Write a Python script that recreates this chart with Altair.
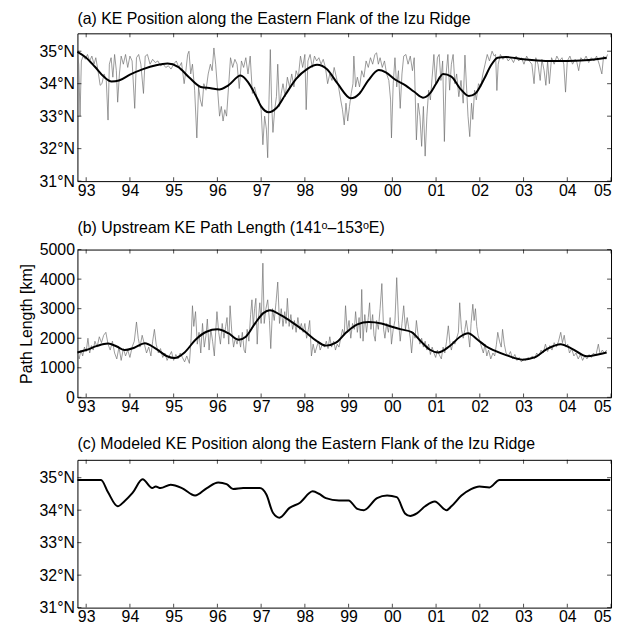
import altair as alt
import pandas as pd

# ---------------- data ----------------
year_ticks = list(range(1993, 2006))
lat_ticks = [31, 32, 33, 34, 35]
km_ticks = [0, 1000, 2000, 3000, 4000, 5000]

# (a) observed KE position, gray noisy series
a_obs_t = [1992.80,1992.83,1992.86,1992.89,1992.93,1992.98,1993.03,1993.08,1993.13,1993.18,1993.22,1993.27,1993.32,1993.36,1993.41,1993.46,1993.50,1993.53,1993.57,1993.61,1993.65,1993.69,1993.72,1993.76,1993.80,1993.85,1993.90,1993.95,1994.00,1994.05,1994.11,1994.15,1994.20,1994.25,1994.31,1994.35,1994.40,1994.46,1994.52,1994.58,1994.64,1994.70,1994.76,1994.82,1994.88,1994.94,1995.00,1995.06,1995.12,1995.18,1995.24,1995.28,1995.32,1995.35,1995.39,1995.43,1995.48,1995.53,1995.57,1995.61,1995.65,1995.69,1995.74,1995.79,1995.84,1995.88,1995.92,1995.96,1996.00,1996.05,1996.09,1996.13,1996.17,1996.21,1996.26,1996.30,1996.35,1996.40,1996.45,1996.50,1996.55,1996.60,1996.65,1996.70,1996.75,1996.80,1996.85,1996.90,1996.95,1997.00,1997.04,1997.08,1997.12,1997.15,1997.18,1997.21,1997.24,1997.27,1997.31,1997.35,1997.38,1997.42,1997.46,1997.50,1997.55,1997.60,1997.65,1997.70,1997.75,1997.80,1997.85,1997.90,1997.95,1998.00,1998.03,1998.07,1998.12,1998.17,1998.22,1998.27,1998.32,1998.37,1998.42,1998.47,1998.52,1998.57,1998.62,1998.67,1998.72,1998.77,1998.82,1998.86,1998.90,1998.94,1998.98,1999.02,1999.06,1999.10,1999.12,1999.16,1999.20,1999.25,1999.30,1999.35,1999.40,1999.45,1999.50,1999.55,1999.60,1999.64,1999.68,1999.72,1999.77,1999.82,1999.87,1999.92,1999.96,1999.98,2000.02,2000.06,2000.10,2000.14,2000.18,2000.22,2000.26,2000.31,2000.36,2000.41,2000.46,2000.50,2000.55,2000.59,2000.63,2000.67,2000.71,2000.75,2000.79,2000.83,2000.87,2000.91,2000.95,2000.99,2001.03,2001.07,2001.11,2001.15,2001.19,2001.23,2001.27,2001.31,2001.35,2001.39,2001.43,2001.47,2001.52,2001.57,2001.62,2001.66,2001.70,2001.73,2001.77,2001.81,2001.84,2001.88,2001.92,2001.97,2002.02,2002.07,2002.12,2002.17,2002.22,2002.28,2002.33,2002.36,2002.39,2002.42,2002.47,2002.53,2002.59,2002.65,2002.71,2002.77,2002.83,2002.89,2002.95,2003.01,2003.07,2003.13,2003.19,2003.24,2003.28,2003.33,2003.38,2003.42,2003.47,2003.51,2003.55,2003.59,2003.64,2003.70,2003.76,2003.82,2003.88,2003.92,2003.96,2004.00,2004.06,2004.12,2004.18,2004.22,2004.26,2004.31,2004.37,2004.43,2004.49,2004.55,2004.61,2004.67,2004.73,2004.79,2004.83,2004.88,2004.92]
a_obs_v = [34.95,34.6,33.0,34.7,34.85,34.75,34.9,34.7,34.85,34.6,34.8,34.4,33.95,34.0,34.3,34.1,32.88,34.6,34.8,34.2,34.9,34.4,33.43,34.3,34.85,34.6,34.9,34.5,34.85,34.7,33.24,34.8,34.9,34.6,33.7,34.85,34.9,34.6,34.75,34.65,34.7,34.55,34.6,34.5,34.55,34.45,34.6,34.7,34.5,34.65,34.0,34.4,34.9,35.0,34.3,34.6,33.8,32.33,33.9,33.5,33.3,34.0,33.8,34.3,34.6,34.4,35.1,34.6,33.9,33.0,33.3,32.85,33.2,33.0,34.0,34.8,34.5,34.75,34.6,33.85,34.7,34.5,34.8,34.3,34.85,33.7,33.9,33.6,33.5,33.2,32.12,33.0,32.6,31.72,33.5,35.05,33.4,32.5,33.2,33.6,34.6,33.3,33.7,34.0,33.6,34.2,33.9,34.3,33.9,34.4,34.2,34.85,34.5,34.9,33.2,34.7,34.9,34.5,34.85,34.7,34.8,34.6,34.75,34.5,34.0,34.3,34.1,34.5,34.2,33.9,33.5,33.2,32.73,33.4,32.85,33.3,33.7,34.0,34.85,33.9,34.2,33.9,34.4,34.2,34.7,34.5,34.8,34.6,34.9,34.95,34.6,34.8,34.5,34.7,34.3,34.1,33.5,32.33,34.0,34.8,33.9,34.4,33.24,34.3,34.85,34.9,34.6,34.85,34.4,34.8,32.27,33.4,33.0,32.07,33.3,31.77,33.0,33.8,33.5,34.2,34.9,34.0,34.8,34.9,34.1,34.7,32.22,34.3,34.9,33.8,34.6,34.9,34.0,34.3,33.6,34.1,33.4,34.88,33.8,33.0,32.37,33.4,32.9,33.8,33.5,34.0,33.9,34.3,34.6,34.9,34.7,35.0,34.85,34.9,33.79,34.6,34.9,34.75,34.85,34.7,34.8,34.65,34.85,34.7,34.8,34.6,34.85,34.7,34.6,34.0,34.8,34.6,34.1,34.75,34.4,33.95,34.7,34.0,34.8,34.6,34.85,34.7,34.8,34.6,33.74,34.7,34.85,34.6,34.75,34.65,34.4,34.8,34.7,34.85,34.65,34.8,34.7,34.85,34.6,34.3,34.85,34.75,34.9]

# (a) smoothed KE position, thick black
a_fit_t = [1992.8,1993.0,1993.2,1993.4,1993.58,1993.75,1994.0,1994.3,1994.6,1994.86,1995.1,1995.35,1995.62,1995.85,1996.04,1996.25,1996.53,1996.7,1996.87,1997.0,1997.17,1997.35,1997.55,1997.8,1998.05,1998.28,1998.5,1998.75,1999.05,1999.25,1999.45,1999.69,1999.85,2000.07,2000.3,2000.5,2000.7,2000.86,2001.0,2001.16,2001.35,2001.55,2001.75,2001.9,2002.1,2002.25,2002.41,2002.6,2003.0,2003.5,2004.0,2004.4,2004.9]
a_fit_v = [34.98,34.8,34.52,34.22,34.07,34.1,34.28,34.45,34.57,34.62,34.52,34.2,33.9,33.86,33.82,33.95,34.25,34.05,33.65,33.3,33.12,33.25,33.65,34.15,34.45,34.58,34.45,34.0,33.55,33.7,34.1,34.42,34.35,34.12,33.95,33.75,33.57,33.7,34.0,34.3,34.22,33.85,33.62,33.7,34.15,34.55,34.8,34.82,34.75,34.7,34.7,34.72,34.8]

# (b) upstream path length, gray noisy series
b_obs_t = [1992.80,1992.84,1992.88,1992.92,1992.96,1993.00,1993.04,1993.08,1993.12,1993.16,1993.20,1993.25,1993.30,1993.35,1993.40,1993.45,1993.50,1993.55,1993.60,1993.65,1993.70,1993.75,1993.80,1993.85,1993.90,1993.95,1994.00,1994.05,1994.10,1994.15,1994.19,1994.23,1994.28,1994.33,1994.38,1994.43,1994.48,1994.52,1994.56,1994.60,1994.65,1994.70,1994.75,1994.80,1994.85,1994.90,1994.95,1995.00,1995.05,1995.10,1995.15,1995.20,1995.25,1995.30,1995.36,1995.40,1995.43,1995.46,1995.50,1995.54,1995.58,1995.62,1995.66,1995.70,1995.74,1995.77,1995.81,1995.85,1995.89,1995.93,1995.96,1995.99,1996.03,1996.07,1996.11,1996.15,1996.19,1996.22,1996.26,1996.29,1996.33,1996.37,1996.41,1996.45,1996.49,1996.53,1996.57,1996.61,1996.64,1996.68,1996.72,1996.76,1996.79,1996.82,1996.85,1996.88,1996.91,1996.94,1996.97,1997.00,1997.04,1997.07,1997.11,1997.15,1997.19,1997.22,1997.26,1997.30,1997.34,1997.38,1997.42,1997.46,1997.50,1997.54,1997.57,1997.60,1997.64,1997.68,1997.72,1997.76,1997.80,1997.84,1997.88,1997.92,1997.96,1998.00,1998.04,1998.08,1998.11,1998.15,1998.19,1998.23,1998.27,1998.31,1998.35,1998.40,1998.45,1998.49,1998.53,1998.57,1998.61,1998.66,1998.70,1998.74,1998.78,1998.82,1998.86,1998.90,1998.93,1998.97,1999.01,1999.05,1999.09,1999.13,1999.16,1999.20,1999.24,1999.27,1999.30,1999.33,1999.37,1999.41,1999.45,1999.48,1999.51,1999.55,1999.58,1999.61,1999.64,1999.68,1999.72,1999.76,1999.80,1999.83,1999.87,1999.91,1999.95,1999.98,2000.02,2000.06,2000.10,2000.14,2000.18,2000.22,2000.26,2000.30,2000.34,2000.37,2000.41,2000.44,2000.48,2000.52,2000.55,2000.59,2000.63,2000.67,2000.71,2000.75,2000.79,2000.83,2000.87,2000.91,2000.95,2000.99,2001.03,2001.07,2001.12,2001.16,2001.20,2001.24,2001.28,2001.32,2001.35,2001.39,2001.43,2001.47,2001.51,2001.54,2001.58,2001.62,2001.66,2001.69,2001.73,2001.77,2001.80,2001.84,2001.87,2001.90,2001.93,2001.96,2002.00,2002.04,2002.08,2002.12,2002.16,2002.20,2002.25,2002.30,2002.34,2002.38,2002.41,2002.45,2002.49,2002.52,2002.56,2002.60,2002.65,2002.70,2002.75,2002.80,2002.85,2002.90,2002.95,2003.00,2003.05,2003.10,2003.15,2003.20,2003.25,2003.30,2003.35,2003.40,2003.45,2003.50,2003.55,2003.60,2003.65,2003.70,2003.75,2003.80,2003.85,2003.89,2003.93,2003.97,2004.01,2004.05,2004.10,2004.15,2004.20,2004.25,2004.30,2004.35,2004.40,2004.45,2004.50,2004.55,2004.60,2004.65,2004.71,2004.75,2004.80,2004.85,2004.90]
b_obs_v = [1450,1300,1600,1400,1700,1550,2000,1500,1750,1600,1900,1700,2050,1850,2100,2200,1800,1600,1900,1500,1300,1700,1250,1650,1400,1600,1350,1700,1900,2550,2000,1700,2100,1800,1500,1700,1400,1900,2300,1800,1500,1650,1350,1500,1250,1400,1550,1250,1450,1300,1500,1350,1200,1400,1150,2000,3100,2400,2900,1800,2200,1500,2500,1700,2100,2650,1600,2300,1900,1400,2200,2900,2200,1800,2500,2000,2400,2700,1800,3100,2200,1700,2000,1800,2100,1700,2200,1600,1500,2300,1900,2800,3300,2400,3000,3350,1800,2700,3200,2500,4540,2500,3000,3300,2600,1650,3000,2600,3200,3900,2500,3000,2400,2900,2500,3350,2400,2800,2300,2600,2200,2700,2300,2500,2200,2500,2000,2300,2600,1400,1800,1500,1700,1900,1600,1800,1700,1900,1650,2050,1700,1900,1600,1800,1700,2000,2300,2100,3100,2200,2600,2000,2500,2300,2900,2200,2700,2000,3650,1900,2800,2200,2700,3200,2300,2800,2100,1900,2600,2300,3000,3850,2300,2000,2500,2200,2700,1800,2300,2600,4050,2600,1900,2500,3100,2300,2700,2400,2000,1500,2200,2000,2600,2100,1800,2000,1700,1900,1600,1800,1450,1700,1500,1350,1600,1450,1300,1700,1500,1900,2420,1800,1600,1900,1800,2000,2200,3200,2300,2000,2300,2600,2200,1700,2500,3150,2600,3000,2400,2100,1900,1700,1500,1800,1400,1600,1300,1500,1400,1800,2200,1900,1700,2300,1800,1500,1400,1550,1300,1450,1250,1350,1200,1300,1250,1350,1300,1400,1300,1500,1400,1600,1500,1800,1550,1750,1600,1850,1700,1900,2200,1850,2100,1700,1800,1500,1650,1400,1500,1300,1450,1250,1400,1300,1450,1350,1500,1400,1800,1450,1600,1500,1600]

# (b) smoothed path length
b_fit_t = [1992.8,1993.0,1993.25,1993.5,1993.7,1993.88,1994.1,1994.34,1994.6,1994.85,1995.02,1995.25,1995.5,1995.75,1996.0,1996.25,1996.49,1996.65,1996.87,1997.05,1997.2,1997.45,1997.72,1998.0,1998.25,1998.48,1998.71,1998.95,1999.2,1999.46,1999.75,1999.99,2000.2,2000.44,2000.65,2000.86,2001.05,2001.3,2001.55,2001.73,2001.95,2002.15,2002.34,2002.6,2002.98,2003.25,2003.55,2003.85,2004.1,2004.45,2004.7,2004.9]
b_fit_v = [1520,1600,1740,1820,1720,1600,1680,1830,1640,1390,1330,1520,1950,2220,2300,2170,1950,2050,2520,2850,2950,2780,2530,2230,1930,1750,1850,2200,2470,2550,2500,2390,2300,2210,1900,1610,1520,1720,2050,2170,1950,1720,1580,1430,1275,1350,1650,1800,1650,1390,1450,1520]

# (c) modeled KE position
c_t = [1992.8,1993.34,1993.5,1993.72,1993.87,1994.06,1994.29,1994.51,1994.59,1994.7,1994.93,1995.19,1995.49,1995.76,1996.02,1996.21,1996.36,1996.59,1996.97,1997.12,1997.27,1997.42,1997.65,1997.88,1998.18,1998.33,1998.48,1998.78,1999.0,1999.2,1999.35,1999.65,1999.88,2000.1,2000.29,2000.41,2000.56,2000.75,2000.97,2001.24,2001.35,2001.58,2001.8,2001.99,2002.22,2002.45,2003.0,2004.0,2004.98]
c_v = [34.93,34.93,34.55,34.12,34.27,34.53,34.95,34.68,34.73,34.68,34.78,34.68,34.45,34.68,34.85,34.8,34.65,34.68,34.68,34.48,33.92,33.77,34.07,34.22,34.58,34.5,34.37,34.3,34.3,34.04,34.0,34.37,34.45,34.4,33.9,33.82,33.9,34.12,34.27,34.0,34.12,34.45,34.65,34.73,34.7,34.93,34.93,34.93,34.93]

titles = [
    "(a) KE Position along the Eastern Flank of the Izu Ridge",
    "(b) Upstream KE Path Length (141\u1d52\u2013153\u1d52E)",
    "(c) Modeled KE Position along the Eastern Flank of the Izu Ridge",
]

# ---------------- chart ----------------
W, H = 538, 149
FONT = "Liberation Sans"
FS = 16
TL = 4  # inward tick length

xscale = alt.Scale(domain=[1992.8, 2005.0], nice=False, zero=False)
xaxis = alt.Axis(values=year_ticks, labelExpr="slice(toString(datum.value), 2)",
                 title=None, labelPadding=1)


def ticks_layers(yscale, yaxis, yvals):
    xt = pd.DataFrame({"x": year_ticks})
    yt = pd.DataFrame({"y": yvals})
    layers = []
    for yy in (H - TL / 2, TL / 2):
        layers.append(alt.Chart(xt).mark_tick(color="black", thickness=1, size=TL).encode(
            x=alt.X("x:Q", scale=xscale, axis=xaxis), y=alt.value(yy)))
    for xx in (TL / 2, W - TL / 2):
        layers.append(alt.Chart(yt).mark_tick(color="black", thickness=1, size=TL, orient="horizontal").encode(
            y=alt.Y("y:Q", scale=yscale, axis=yaxis), x=alt.value(xx)))
    return layers


def panel(title, lines, yscale, yaxis, yvals, offset):
    base = []
    for df, color, width, interp in lines:
        base.append(alt.Chart(df).mark_line(color=color, strokeWidth=width, interpolate=interp).encode(
            x=alt.X("t:Q", scale=xscale, axis=xaxis),
            y=alt.Y("v:Q", scale=yscale, axis=yaxis),
        ))
    return alt.layer(*base, *ticks_layers(yscale, yaxis, yvals)).properties(
        width=W, height=H,
        view=alt.ViewBackground(stroke="black", strokeWidth=1, fill="white"),
        title=alt.TitleParams(title, anchor="start", frame="group", fontSize=FS,
                              font=FONT, fontWeight="normal", offset=offset, color="black"),
    )


lat_scale = alt.Scale(domain=[31, 35.55], nice=False, zero=False)
lat_axis = alt.Axis(values=lat_ticks, labelExpr="datum.value + '\u00b0N'", title=None, labelPadding=3)
km_scale = alt.Scale(domain=[0, 5000], nice=False)
km_axis = alt.Axis(values=km_ticks, format="d", title="Path Length [km]", labelPadding=3,
                   titlePadding=5)

dfa_obs = pd.DataFrame({"t": a_obs_t, "v": a_obs_v})
dfa_fit = pd.DataFrame({"t": a_fit_t, "v": a_fit_v})
dfb_obs = pd.DataFrame({"t": b_obs_t, "v": b_obs_v})
dfb_fit = pd.DataFrame({"t": b_fit_t, "v": b_fit_v})
dfc = pd.DataFrame({"t": c_t, "v": c_v})

GRAY = "#707070"
pa = panel(titles[0], [(dfa_obs, GRAY, 0.7, "linear"), (dfa_fit, "black", 2, "monotone")],
           lat_scale, lat_axis, lat_ticks, 6)
pb = panel(titles[1], [(dfb_obs, GRAY, 0.7, "linear"), (dfb_fit, "black", 2, "monotone")],
           km_scale, km_axis, km_ticks, 6)
pc = panel(titles[2], [(dfc, "black", 2, "monotone")], lat_scale, lat_axis, lat_ticks, 8)

chart = alt.vconcat(pa, pb, pc, spacing=20).properties(
    padding={"left": 9, "top": 0, "right": 0, "bottom": 0},
    background="white",
).configure_view(stroke="black", strokeWidth=1).configure_axis(
    domain=False, ticks=False, grid=False, labelFont=FONT, labelFontSize=FS,
    labelColor="black", titleFont=FONT, titleFontSize=FS, titleFontWeight="normal",
    titleColor="black",
)

chart.save("out.html", embed_options={"renderer": "svg", "actions": False})
